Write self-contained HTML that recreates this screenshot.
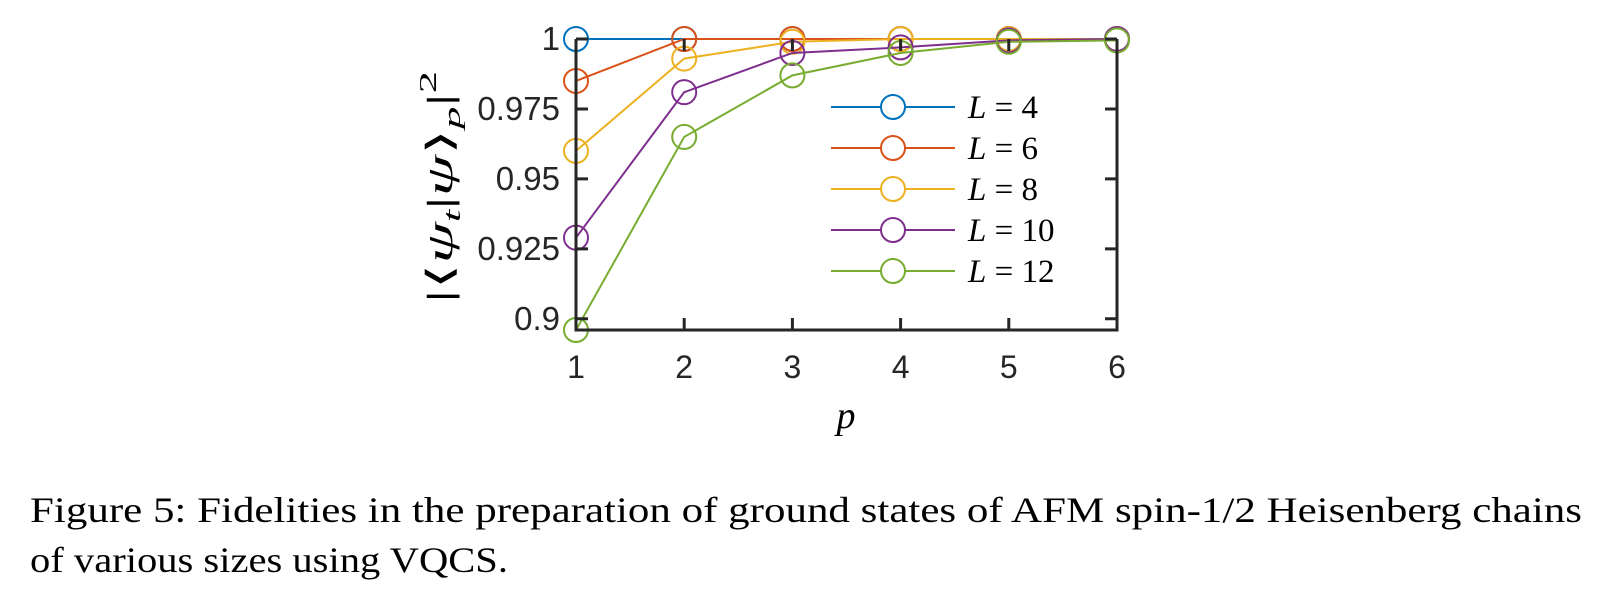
<!DOCTYPE html>
<html><head><meta charset="utf-8"><style>
html,body{margin:0;padding:0;background:#fff;}
svg{display:block;}
</style></head><body>
<svg id="chart" width="1611" height="594">
<g id="plot"></g>
<text x="846" y="428" font-family="Liberation Serif, serif" font-style="italic" font-size="38" text-anchor="middle">p</text>
<text transform="translate(452,187) rotate(-90)" font-family="Liberation Serif, serif" font-size="36" text-anchor="middle" textLength="232" lengthAdjust="spacingAndGlyphs">|⟨<tspan font-style="italic">ψ</tspan><tspan font-size="24" dy="8" font-style="italic">t</tspan><tspan dy="-8">|</tspan><tspan font-style="italic">ψ</tspan>⟩<tspan font-size="24" dy="8" font-style="italic">p</tspan><tspan dy="-8">|</tspan><tspan font-size="24" dy="-16">2</tspan></text>
<text x="30" y="522" font-family="Liberation Serif, serif" font-size="36" textLength="1552" lengthAdjust="spacingAndGlyphs">Figure 5:   Fidelities in the preparation of ground states of AFM spin-1/2 Heisenberg chains</text>
<text x="30" y="572" font-family="Liberation Serif, serif" font-size="36" textLength="478" lengthAdjust="spacingAndGlyphs">of various sizes using VQCS.</text>
</svg>
<script>
const pValues=[1,2,3,4,5,6];
const seriesNames=["L = 4","L = 6","L = 8","L = 10","L = 12"];
const seriesColors=["#0072BD","#D95319","#EDB120","#7E2F8E","#77AC30"];
const fidL4=[1,1,1,1,1,1];
const fidL6=[0.985,1,1,1,1,1];
const fidL8=[0.960,0.993,0.999,1,1,1];
const fidL10=[0.929,0.981,0.995,0.997,0.9995,1];
const fidL12=[0.896,0.965,0.987,0.995,0.999,0.9995];
const yTicks=[0.9,0.925,0.95,0.975,1];
const yTickLabels=["0.9","0.925","0.95","0.975","1"];
const xTicks=[1,2,3,4,5,6];

const NS="http://www.w3.org/2000/svg";
const L=576,R=1117,T=39,B=330,xmin=1,xmax=6,ymin=0.896,ymax=1;
const sx=v=>L+(v-xmin)/(xmax-xmin)*(R-L);
const sy=v=>B-(v-ymin)/(ymax-ymin)*(B-T);
const g=document.getElementById('plot');
function mk(t,a){const e=document.createElementNS(NS,t);for(const k in a)e.setAttribute(k,a[k]);g.appendChild(e);return e;}
const allSeries=[fidL4,fidL6,fidL8,fidL10,fidL12];
allSeries.forEach((s,i)=>{
  const pl=mk('polyline',{points:s.map((v,j)=>sx(pValues[j])+','+sy(v)).join(' '),fill:'none',stroke:seriesColors[i],'stroke-width':2});
  
  
  s.forEach((v,j)=>{
    const c=mk('circle',{cx:sx(pValues[j]),cy:sy(v),r:12,fill:'none',stroke:seriesColors[i],'stroke-width':2});
    
    
  });
});
const box=mk('path',{d:`M${L},${T}V${B}H${R}V${T}`,fill:'none',stroke:'#262626','stroke-width':3});


xTicks.forEach(v=>{
  const tk=mk('path',{d:`M${sx(v)},${B}v-12M${sx(v)},${T}v12`,stroke:'#262626','stroke-width':3});
  
  
  const t=mk('text',{x:sx(v),y:378,'font-family':'Liberation Sans, sans-serif','font-size':32,'text-anchor':'middle',fill:'#262626'});
  t.textContent=v;
  
  
});
yTicks.forEach((v,i)=>{
  const tk=mk('path',{d:`M${L},${sy(v)}h12M${R},${sy(v)}h-12`,stroke:'#262626','stroke-width':3});
  
  
  const t=mk('text',{x:L-16,y:sy(v)+11,'font-family':'Liberation Sans, sans-serif','font-size':33,'text-anchor':'end',fill:'#262626'});
  t.textContent=yTickLabels[i];
  
  
});
seriesNames.forEach((n,i)=>{
  const y=107+i*41;
  const ln=mk('line',{x1:831,x2:955,y1:y,y2:y,stroke:seriesColors[i],'stroke-width':2});
  
  
  const c=mk('circle',{cx:893,cy:y,r:12,fill:'#fff',stroke:seriesColors[i],'stroke-width':2});
  
  
  const t=mk('text',{x:968,y:y+11,'font-family':'Liberation Serif, serif','font-size':33});
  t.innerHTML='<tspan font-style="italic">L</tspan> = '+n.split('= ')[1];
  
  
});
</script>
</body></html>
